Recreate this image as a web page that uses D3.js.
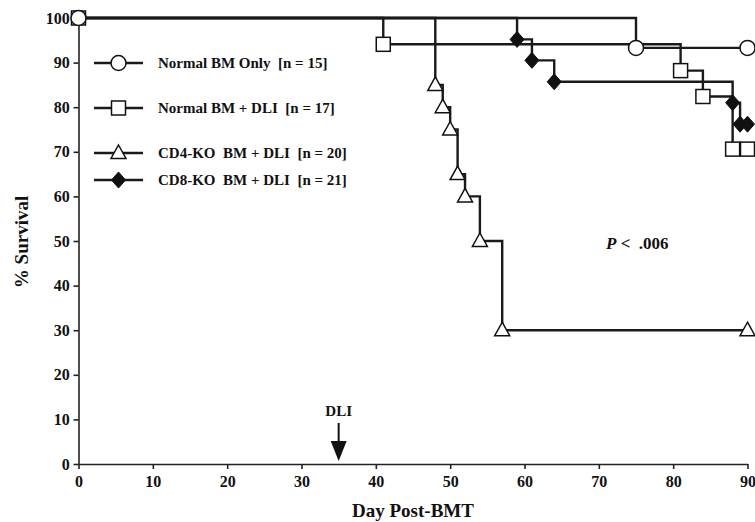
<!DOCTYPE html>
<html><head><meta charset="utf-8">
<script src="https://cdn.jsdelivr.net/npm/d3@7"></script>
<style>body{margin:0;background:#fff}svg{display:block}text{font-family:"Liberation Serif","Times New Roman",serif;font-weight:bold;fill:#111;white-space:pre}</style>
</head><body><svg id="c" width="755" height="522"></svg>
<script>
const xTicks = [0,10,20,30,40,50,60,70,80,90];
const yTicks = [0,10,20,30,40,50,60,70,80,90,100];
const seriesNames = ["Normal BM Only  [n = 15]","Normal BM + DLI  [n = 17]","CD4-KO  BM + DLI  [n = 20]","CD8-KO  BM + DLI  [n = 21]"];
const seriesSymbols = ["circle","square","triangle","diamond"];
const normalDays = [0,75,90];
const normalSurv = [100,93.3,93.3];
const normalMarks = [0,1,2];
const dliDays = [0,41,81,84,88,90];
const dliSurv = [100,94.1,88.2,82.4,70.6,70.6];
const dliMarks = [0,1,2,3,4,5];
const cd4Days = [0,48,49,50,51,52,54,57,90];
const cd4Surv = [100,85,80,75,65,60,50,30,30];
const cd4Marks = [1,2,3,4,5,6,7,8];
const cd8Days = [0,59,61,64,88,89,90];
const cd8Surv = [100,95.2,90.5,85.7,81,76.2,76.2];
const cd8Marks = [1,2,3,4,5,6];
const dliDay = 35;
const pText = ".006";

const svg = d3.select("#c");
const x = d3.scaleLinear().domain([0,90]).range([78.5,747.5]);
const y = d3.scaleLinear().domain([0,100]).range([464,18]);

const series = [
  {days:normalDays, surv:normalSurv, marks:normalMarks, sym:seriesSymbols[0]},
  {days:dliDays, surv:dliSurv, marks:dliMarks, sym:seriesSymbols[1]},
  {days:cd4Days, surv:cd4Surv, marks:cd4Marks, sym:seriesSymbols[2]},
  {days:cd8Days, surv:cd8Surv, marks:cd8Marks, sym:seriesSymbols[3]}
];

// axes
const xa = svg.append("g").attr("transform","translate(0,464)")
  .call(d3.axisBottom(x).tickValues(xTicks).tickSize(5).tickSizeOuter(0));
const ya = svg.append("g").attr("transform","translate(78.5,0)")
  .call(d3.axisLeft(y).tickValues(yTicks).tickSize(5).tickSizeOuter(0));
[xa,ya].forEach(a=>{
  a.selectAll("path,line").attr("stroke","#222").attr("stroke-width",1.6);
  a.selectAll("text").attr("fill","#111").style("font-family",'"Liberation Serif",serif').style("font-weight","bold").style("font-size","16px");
});
xa.selectAll("text").attr("dy","0.95em");
ya.selectAll("text").attr("dx","-0.05em");

function drawSymbol(g, sym, cx, cy){
  if(sym==="circle"){
    g.append("circle").attr("cx",cx).attr("cy",cy).attr("r",7.5).attr("fill","#fff").attr("stroke","#111").attr("stroke-width",1.5);
  } else if(sym==="square"){
    g.append("rect").attr("x",cx-7).attr("y",cy-7).attr("width",14).attr("height",14).attr("fill","#fff").attr("stroke","#111").attr("stroke-width",1.5);
  } else if(sym==="triangle"){
    g.append("path").attr("d",`M${cx},${cy-8}L${cx+7.5},${cy+5.5}L${cx-7.5},${cy+5.5}Z`).attr("fill","#fff").attr("stroke","#111").attr("stroke-width",1.5);
  } else {
    g.append("path").attr("d",`M${cx},${cy-8}L${cx+7},${cy}L${cx},${cy+8}L${cx-7},${cy}Z`).attr("fill","#111").attr("stroke","#111").attr("stroke-width",1);
  }
}

const line = d3.line().x(d=>x(d[0])).y(d=>y(d[1])).curve(d3.curveStepAfter);
const gl = svg.append("g");
series.forEach(s=>{
  const pts = s.days.map((d,i)=>[d,s.surv[i]]);
  gl.append("path").attr("d",line(pts)).attr("fill","none").attr("stroke","#1a1a1a").attr("stroke-width",2.4);
});
const gm = svg.append("g");
[2,3,1,0].forEach(k=>{
  const s = series[k];
  s.marks.forEach(i=>drawSymbol(gm, s.sym, x(s.days[i]), y(s.surv[i])));
});

// legend
const legY = [63,108,153,180];
const lg = svg.append("g");
seriesNames.forEach((n,i)=>{
  lg.append("line").attr("x1",94).attr("x2",143).attr("y1",legY[i]).attr("y2",legY[i]).attr("stroke","#1a1a1a").attr("stroke-width",2.4);
  drawSymbol(lg, seriesSymbols[i], 118.5, legY[i]);
  lg.append("text").attr("x",158).attr("y",legY[i]+5).style("font-size","15px").text(n);
});

// p value
const pt = svg.append("text").attr("x",606).attr("y",249).style("font-size","17px");
pt.append("tspan").style("font-style","italic").text("P");
pt.append("tspan").text(" <  " + pText);

// DLI arrow
const ax = x(dliDay);
svg.append("text").attr("x",ax).attr("y",416).attr("text-anchor","middle").style("font-size","15px").text("DLI");
svg.append("line").attr("x1",ax).attr("x2",ax).attr("y1",423).attr("y2",446).attr("stroke","#111").attr("stroke-width",2);
svg.append("path").attr("d",`M${ax-8},${441}L${ax+8},${441}L${ax},${461}Z`).attr("fill","#111");

// axis titles
svg.append("text").attr("x",413).attr("y",517).attr("text-anchor","middle").style("font-size","19px").text("Day Post-BMT");
svg.append("text").attr("transform","translate(28,242) rotate(-90)").attr("text-anchor","middle").style("font-size","19px").text("% Survival");
</script></body></html>
